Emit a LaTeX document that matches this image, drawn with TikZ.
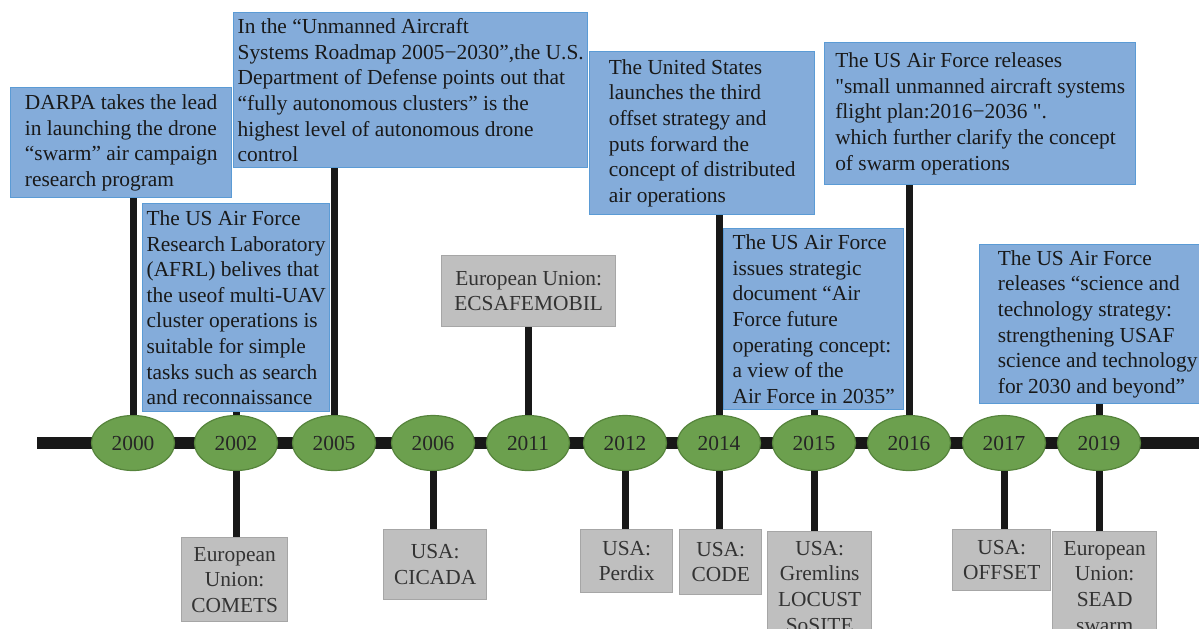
\documentclass[tikz,border=0pt]{standalone}
\usepackage{fontspec}
\setmainfont{Liberation Serif}
\newfontfamily\plainq{Liberation Serif}
\usepackage{tikz}
\usetikzlibrary{shapes,calc}
\definecolor{evtblue}{RGB}{132,172,218}
\definecolor{evtline}{RGB}{91,155,213}
\definecolor{projgray}{RGB}{191,191,191}
\definecolor{projline}{RGB}{166,166,166}
\definecolor{yeargreen}{RGB}{108,160,78}
\definecolor{yearline}{RGB}{86,132,60}
\definecolor{stemblack}{RGB}{24,24,24}
\newcommand{\tlfont}{\fontsize{10.7}{12.8}\selectfont}
\newcommand{\sq}{{\plainq"}}
\tikzstyle{evtbox}=[rectangle, draw=evtline, fill=evtblue, line width=0.7pt, align=left, anchor=north west, inner sep=0pt, text=black!90, font=\tlfont]
\tikzstyle{projbox}=[rectangle, draw=projline, fill=projgray, line width=0.7pt, align=center, anchor=north west, inner sep=0pt, text=black!80, font=\tlfont]
\tikzstyle{yearV}=[ellipse, draw=yearline, fill=yeargreen, line width=0.6pt, minimum width=41.5pt, minimum height=27.5pt, inner sep=0pt, text=black!85, font=\tlfont]
\tikzstyle{stem}=[line width=3.5pt, draw=stemblack]

\begin{document}
\begin{tikzpicture}[x=0.5pt, y=-0.5pt]
        \useasboundingbox (0,0) rectangle (1199,628);
        \clip (0,0) rectangle (1199,628);
        % time axis
        \coordinate (barL) at (37,443);
        \coordinate (barR) at (1205,443);
        \draw[line width=6pt, stemblack] (barL) -- (barR);
        % years
        \node(y00) [yearV] at (133, 443){2000};
        \node(y02) [yearV] at (236, 443){2002};
        \node(y05) [yearV] at (334, 443){2005};
        \node(y06) [yearV] at (433, 443){2006};
        \node(y11) [yearV] at (528, 443){2011};
        \node(y12) [yearV] at (625, 443){2012};
        \node(y14) [yearV] at (719, 443){2014};
        \node(y15) [yearV] at (814, 443){2015};
        \node(y16) [yearV] at (909, 443){2016};
        \node(y17) [yearV] at (1004, 443){2017};
        \node(y19) [yearV] at (1099, 443){2019};
        % events above the axis
        \node(darpa) [evtbox, minimum width=110.5pt, minimum height=55pt] at (10, 87)
            {DARPA takes the lead\\in launching the drone\\“swarm” air campaign\\research program};
        \node(roadmap) [evtbox, minimum width=177pt, minimum height=77.5pt] at (233, 12)
            {In the “Unmanned Aircraft\\Systems Roadmap 2005−2030”,the U.S.\\Department of Defense points out that\\“fully autonomous clusters” is the\\highest level of autonomous drone\\control};
        \node(afrl) [evtbox, minimum width=93.5pt, minimum height=104pt] at (142, 203)
            {The US Air Force\\Research Laboratory\\(AFRL) belives that\\the useof multi-UAV\\cluster operations is\\suitable for simple\\tasks such as search\\and reconnaissance};
        \node(third) [evtbox, minimum width=112.5pt, minimum height=81.5pt] at (589, 51)
            {The United States\\launches the third\\offset strategy and\\puts forward the\\concept of distributed\\air operations};
        \node(future) [evtbox, minimum width=90pt, minimum height=90.5pt] at (723, 228)
            {The US Air Force\\issues strategic\\document “Air\\Force future\\operating concept:\\a view of the\\Air Force in 2035”};
        \node(sflight) [evtbox, minimum width=155.5pt, minimum height=71pt] at (824, 42)
            {The US Air Force releases\\\sq small unmanned aircraft systems\\flight plan:2016−2036 \sq.\\which further clarify the concept\\of swarm operations};
        \node(sandt) [evtbox, minimum width=118pt, minimum height=79.5pt] at (979, 244)
            {The US Air Force\\releases “science and\\technology strategy:\\strengthening USAF\\science and technology\\for 2030 and beyond”};
        \node(ecsafe) [projbox, minimum width=87pt, minimum height=35.5pt] at (441, 255)
            {European Union:\\ECSAFEMOBIL};
        % projects below the axis
        \node(comets) [projbox, minimum width=53pt, minimum height=42pt] at (181, 537)
            {European\\Union:\\COMETS};
        \node(cicada) [projbox, minimum width=51.5pt, minimum height=35pt] at (383, 529)
            {USA:\\CICADA};
        \node(perdix) [projbox, minimum width=46pt, minimum height=31.5pt] at (580, 529)
            {USA:\\Perdix};
        \node(code) [projbox, minimum width=41pt, minimum height=32.5pt] at (679, 529)
            {USA:\\CODE};
        \node(gremlins) [projbox, minimum width=52pt, minimum height=55pt] at (767, 531)
            {USA:\\Gremlins\\LOCUST\\SoSITE};
        \node(offset) [projbox, minimum width=49pt, minimum height=30.5pt] at (952, 529)
            {USA:\\OFFSET};
        \node(sead) [projbox, minimum width=52pt, minimum height=55pt] at (1052, 531)
            {European\\Union:\\SEAD\\swarm};
        % stems
        \draw[stem] (y00.north) -- (y00.north |- darpa.south);
        \draw[stem] (y02.north) -- (y02.north |- afrl.south);
        \draw[stem] (y05.north) -- (y05.north |- roadmap.south);
        \draw[stem] (y11.north) -- (y11.north |- ecsafe.south);
        \draw[stem] (y14.north) -- (y14.north |- third.south);
        \draw[stem] (y15.north) -- (y15.north |- future.south);
        \draw[stem] (y16.north) -- (y16.north |- sflight.south);
        \draw[stem] (y19.north) -- (y19.north |- sandt.south);
        \draw[stem] (y02.south) -- (y02.south |- comets.north);
        \draw[stem] (y06.south) -- (y06.south |- cicada.north);
        \draw[stem] (y12.south) -- (y12.south |- perdix.north);
        \draw[stem] (y14.south) -- (y14.south |- code.north);
        \draw[stem] (y15.south) -- (y15.south |- gremlins.north);
        \draw[stem] (y17.south) -- (y17.south |- offset.north);
        \draw[stem] (y19.south) -- (y19.south |- sead.north);
\end{tikzpicture}
\end{document}
